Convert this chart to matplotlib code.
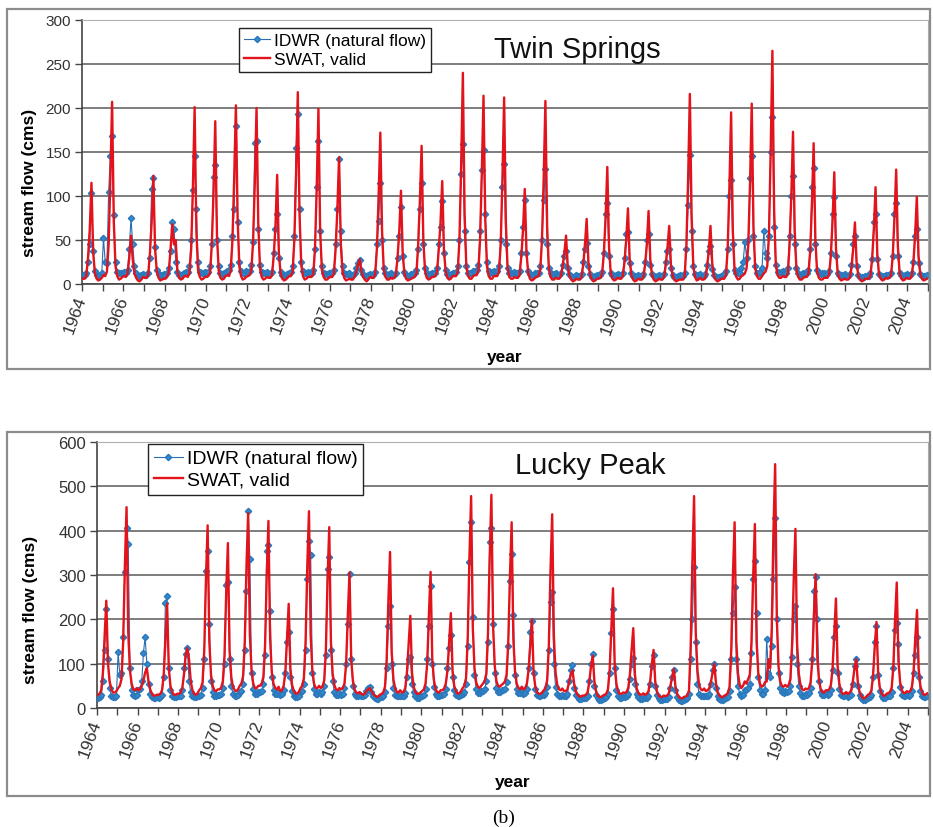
import numpy as np
import matplotlib
matplotlib.use("Agg")
import matplotlib.pyplot as plt
from matplotlib.patches import Rectangle

plt.rcParams['font.family'] = ['Liberation Sans', 'DejaVu Sans']

years = list(range(1964, 2005))

# Twin Springs, monthly values (Jan..Dec), one row per year 1964-2004
ts_swat = [
    [6, 6, 9, 30, 62, 115, 36, 12, 6, 4, 5, 7],
    [10, 9, 14, 45, 120, 207, 70, 20, 9, 5, 6, 8],
    [9, 8, 12, 30, 55, 28, 12, 7, 4, 3, 5, 8],
    [7, 7, 10, 35, 70, 123, 40, 14, 7, 4, 5, 6],
    [6, 8, 14, 40, 68, 45, 50, 14, 7, 5, 6, 9],
    [9, 8, 12, 40, 110, 201, 60, 16, 8, 5, 6, 8],
    [8, 9, 13, 45, 105, 185, 55, 15, 7, 5, 6, 9],
    [10, 9, 15, 50, 120, 203, 75, 20, 9, 5, 6, 8],
    [9, 10, 16, 48, 115, 200, 70, 18, 8, 5, 6, 8],
    [7, 7, 10, 32, 65, 124, 35, 12, 6, 4, 5, 7],
    [9, 9, 14, 50, 125, 218, 80, 22, 9, 5, 6, 8],
    [8, 8, 11, 40, 110, 199, 60, 16, 8, 5, 5, 7],
    [8, 8, 12, 40, 85, 144, 45, 14, 7, 4, 5, 6],
    [5, 5, 8, 14, 22, 28, 15, 8, 5, 3, 5, 8],
    [7, 7, 11, 40, 100, 172, 60, 16, 8, 5, 5, 7],
    [6, 7, 10, 30, 60, 106, 35, 12, 6, 4, 5, 6],
    [7, 8, 12, 45, 95, 157, 50, 15, 7, 5, 6, 8],
    [8, 9, 14, 40, 70, 117, 38, 14, 7, 5, 6, 9],
    [9, 9, 14, 50, 135, 240, 80, 20, 9, 6, 6, 9],
    [10, 10, 15, 50, 125, 214, 75, 20, 9, 6, 6, 9],
    [9, 9, 14, 45, 120, 212, 70, 18, 8, 6, 6, 8],
    [7, 7, 10, 32, 62, 108, 36, 12, 6, 4, 5, 7],
    [8, 9, 16, 50, 120, 208, 65, 18, 8, 5, 5, 7],
    [6, 6, 9, 20, 35, 55, 20, 9, 5, 3, 4, 6],
    [5, 5, 8, 22, 45, 74, 25, 10, 5, 3, 4, 6],
    [6, 7, 12, 35, 75, 133, 42, 12, 6, 4, 5, 7],
    [6, 6, 9, 25, 50, 86, 28, 10, 5, 3, 4, 6],
    [5, 5, 8, 22, 45, 83, 28, 10, 5, 3, 4, 6],
    [5, 5, 8, 22, 42, 66, 22, 9, 5, 3, 4, 5],
    [5, 5, 9, 45, 120, 216, 80, 20, 8, 4, 5, 7],
    [5, 5, 7, 18, 38, 66, 24, 9, 5, 3, 4, 6],
    [6, 6, 10, 40, 110, 195, 60, 16, 8, 5, 6, 9],
    [10, 12, 18, 45, 115, 205, 65, 18, 9, 6, 6, 9],
    [12, 14, 20, 55, 150, 265, 85, 22, 10, 7, 7, 9],
    [8, 8, 12, 45, 100, 173, 60, 16, 8, 5, 5, 7],
    [8, 8, 12, 38, 90, 160, 50, 14, 7, 5, 5, 7],
    [7, 7, 11, 32, 72, 127, 40, 12, 6, 4, 5, 6],
    [5, 5, 7, 18, 40, 70, 24, 9, 5, 3, 4, 6],
    [6, 6, 9, 28, 62, 110, 35, 11, 6, 4, 5, 7],
    [6, 7, 10, 32, 75, 130, 42, 12, 6, 4, 5, 7],
    [6, 6, 9, 25, 55, 99, 32, 11, 6, 4, 5, 6],
]

ts_idwr = [
    [10, 10, 12, 25, 45, 103, 38, 15, 10, 9, 10, 12],
    [52, 25, 24, 104, 146, 168, 78, 25, 14, 12, 12, 13],
    [14, 13, 16, 40, 75, 45, 20, 12, 9, 9, 10, 11],
    [10, 10, 12, 30, 108, 121, 42, 16, 11, 10, 10, 11],
    [10, 12, 18, 38, 71, 62, 25, 14, 10, 10, 11, 13],
    [14, 14, 20, 50, 107, 145, 85, 25, 14, 12, 12, 14],
    [13, 14, 20, 45, 122, 135, 50, 20, 12, 11, 12, 14],
    [15, 16, 22, 55, 85, 180, 70, 25, 15, 12, 13, 15],
    [14, 15, 22, 48, 160, 163, 63, 22, 14, 12, 12, 14],
    [11, 11, 14, 35, 62, 80, 30, 14, 10, 9, 10, 11],
    [13, 14, 20, 55, 155, 193, 85, 25, 15, 12, 13, 14],
    [12, 12, 16, 40, 110, 163, 60, 20, 13, 11, 11, 12],
    [12, 12, 16, 45, 85, 142, 60, 20, 13, 11, 11, 12],
    [10, 10, 12, 18, 24, 27, 16, 11, 9, 9, 10, 11],
    [10, 10, 14, 45, 72, 115, 50, 18, 12, 10, 11, 12],
    [10, 10, 13, 30, 55, 87, 32, 14, 10, 9, 10, 11],
    [11, 12, 16, 40, 85, 115, 45, 18, 12, 10, 11, 13],
    [12, 13, 18, 45, 65, 94, 35, 16, 11, 10, 11, 13],
    [13, 14, 20, 50, 125, 159, 60, 20, 13, 12, 13, 15],
    [15, 16, 22, 60, 130, 152, 80, 25, 15, 13, 14, 15],
    [14, 15, 20, 50, 110, 136, 45, 18, 13, 12, 12, 14],
    [12, 12, 15, 35, 65, 95, 35, 15, 11, 10, 10, 12],
    [12, 13, 20, 50, 95, 131, 45, 18, 12, 10, 11, 12],
    [10, 10, 12, 22, 32, 37, 18, 11, 9, 8, 9, 10],
    [9, 9, 11, 25, 40, 47, 20, 11, 8, 8, 9, 10],
    [10, 10, 14, 35, 80, 92, 32, 13, 10, 9, 10, 11],
    [10, 10, 12, 30, 57, 59, 24, 12, 9, 9, 9, 10],
    [9, 9, 11, 25, 50, 57, 22, 11, 9, 8, 9, 10],
    [9, 9, 11, 25, 38, 40, 18, 10, 8, 8, 9, 10],
    [9, 9, 13, 40, 90, 147, 60, 20, 11, 9, 10, 11],
    [9, 9, 11, 22, 38, 43, 17, 10, 8, 8, 8, 9],
    [10, 11, 15, 40, 100, 118, 45, 16, 12, 12, 13, 18],
    [25, 48, 30, 50, 120, 146, 55, 20, 13, 13, 14, 18],
    [60, 35, 30, 55, 150, 190, 65, 22, 14, 13, 14, 15],
    [13, 13, 18, 55, 100, 123, 45, 18, 12, 10, 11, 12],
    [12, 12, 16, 40, 110, 132, 45, 16, 12, 11, 12, 13],
    [11, 11, 15, 35, 80, 99, 32, 13, 10, 10, 10, 11],
    [9, 9, 11, 22, 45, 55, 20, 10, 8, 8, 8, 9],
    [9, 9, 12, 28, 70, 80, 28, 11, 9, 9, 9, 10],
    [10, 10, 13, 32, 80, 92, 32, 12, 10, 9, 10, 11],
    [10, 10, 12, 25, 55, 62, 24, 11, 9, 9, 9, 10],
]

# Lucky Peak, monthly values (Jan..Dec), one row per year 1964-2004
lp_swat = [
    [30, 32, 40, 80, 160, 242, 100, 60, 42, 35, 35, 38],
    [45, 50, 65, 150, 320, 453, 170, 85, 55, 42, 40, 45],
    [40, 42, 50, 62, 80, 90, 60, 42, 32, 28, 28, 30],
    [30, 32, 40, 75, 150, 235, 90, 50, 36, 30, 30, 32],
    [32, 35, 45, 75, 120, 135, 110, 60, 40, 32, 30, 33],
    [40, 45, 58, 130, 290, 412, 150, 75, 50, 40, 38, 42],
    [42, 46, 60, 120, 260, 372, 130, 70, 48, 40, 38, 42],
    [50, 55, 72, 150, 320, 440, 165, 85, 55, 45, 45, 50],
    [50, 55, 70, 140, 300, 422, 155, 80, 55, 45, 42, 48],
    [38, 40, 50, 80, 160, 235, 90, 52, 38, 33, 33, 36],
    [45, 50, 68, 150, 320, 444, 165, 85, 55, 45, 45, 50],
    [45, 48, 62, 130, 290, 408, 150, 78, 52, 42, 40, 45],
    [42, 45, 55, 100, 210, 306, 110, 62, 42, 35, 33, 36],
    [32, 30, 32, 38, 42, 45, 38, 32, 28, 25, 26, 30],
    [32, 35, 48, 110, 240, 352, 125, 65, 45, 36, 35, 40],
    [35, 36, 45, 80, 145, 208, 80, 48, 36, 32, 32, 35],
    [38, 42, 55, 100, 210, 307, 110, 62, 42, 36, 35, 40],
    [40, 44, 55, 85, 150, 214, 85, 50, 38, 33, 33, 38],
    [45, 50, 68, 160, 340, 478, 180, 90, 58, 48, 45, 50],
    [55, 60, 78, 170, 340, 481, 185, 95, 60, 50, 48, 52],
    [55, 60, 75, 150, 300, 419, 155, 82, 55, 45, 42, 48],
    [42, 45, 55, 85, 140, 200, 80, 48, 36, 32, 32, 35],
    [40, 45, 62, 140, 310, 437, 160, 80, 52, 42, 40, 44],
    [38, 38, 42, 58, 75, 85, 55, 38, 30, 26, 26, 28],
    [28, 30, 36, 60, 95, 118, 60, 38, 28, 25, 25, 28],
    [30, 32, 42, 85, 180, 270, 100, 55, 38, 32, 32, 35],
    [34, 36, 45, 75, 130, 180, 75, 45, 34, 30, 30, 33],
    [30, 32, 38, 60, 100, 131, 60, 38, 28, 25, 25, 28],
    [27, 28, 33, 50, 70, 88, 48, 32, 25, 22, 22, 25],
    [26, 28, 40, 140, 330, 478, 170, 85, 52, 42, 40, 44],
    [38, 40, 45, 60, 80, 100, 55, 36, 28, 25, 25, 28],
    [30, 34, 48, 130, 300, 419, 150, 78, 52, 45, 50, 60],
    [55, 65, 75, 150, 300, 415, 150, 80, 55, 48, 50, 58],
    [60, 110, 90, 180, 400, 550, 200, 95, 60, 50, 48, 52],
    [48, 52, 65, 140, 290, 404, 145, 78, 52, 42, 40, 44],
    [42, 45, 58, 110, 210, 302, 110, 62, 42, 36, 35, 40],
    [40, 42, 52, 90, 170, 247, 95, 55, 38, 32, 32, 36],
    [32, 34, 40, 60, 90, 110, 55, 36, 27, 22, 22, 26],
    [30, 32, 40, 75, 140, 194, 78, 45, 33, 28, 28, 32],
    [34, 36, 46, 95, 200, 283, 105, 58, 40, 34, 34, 38],
    [36, 38, 48, 85, 160, 221, 88, 50, 36, 30, 30, 33],
]

lp_idwr = [
    [22, 25, 30, 60, 130, 223, 110, 45, 28, 24, 24, 26],
    [126, 75, 80, 160, 307, 405, 370, 90, 40, 30, 28, 30],
    [40, 42, 60, 125, 160, 100, 55, 32, 25, 22, 22, 24],
    [22, 24, 30, 70, 237, 252, 90, 40, 28, 24, 24, 26],
    [26, 28, 40, 90, 122, 135, 60, 35, 28, 24, 24, 27],
    [28, 30, 45, 110, 310, 355, 190, 60, 35, 28, 28, 30],
    [30, 32, 45, 100, 278, 285, 110, 50, 32, 28, 28, 30],
    [35, 38, 55, 130, 265, 445, 335, 80, 42, 32, 32, 35],
    [35, 38, 55, 120, 355, 368, 219, 70, 40, 32, 32, 35],
    [30, 32, 40, 80, 150, 171, 70, 38, 28, 25, 25, 28],
    [35, 38, 55, 130, 290, 377, 345, 80, 42, 32, 32, 35],
    [32, 35, 50, 120, 314, 340, 130, 60, 36, 30, 30, 33],
    [30, 32, 45, 100, 190, 303, 110, 50, 32, 27, 27, 30],
    [26, 26, 30, 38, 45, 48, 35, 27, 22, 20, 20, 24],
    [24, 26, 36, 90, 185, 230, 100, 45, 30, 26, 26, 28],
    [26, 27, 34, 70, 110, 115, 55, 35, 26, 23, 23, 26],
    [28, 30, 42, 110, 185, 276, 100, 48, 32, 27, 27, 30],
    [30, 32, 42, 90, 135, 165, 70, 40, 30, 26, 26, 30],
    [32, 36, 55, 140, 330, 419, 205, 75, 42, 34, 34, 38],
    [38, 42, 60, 150, 375, 405, 190, 80, 45, 36, 36, 40],
    [40, 42, 58, 140, 287, 347, 210, 75, 42, 34, 34, 38],
    [32, 34, 42, 90, 171, 197, 80, 42, 30, 27, 27, 30],
    [30, 34, 48, 131, 240, 262, 100, 48, 32, 27, 27, 30],
    [28, 28, 32, 60, 85, 97, 45, 30, 24, 20, 20, 22],
    [22, 23, 28, 60, 100, 122, 50, 30, 22, 18, 18, 21],
    [22, 24, 32, 80, 170, 223, 90, 40, 26, 22, 22, 25],
    [25, 26, 32, 65, 100, 112, 55, 32, 24, 20, 20, 23],
    [22, 23, 28, 55, 95, 120, 50, 30, 22, 18, 18, 21],
    [20, 21, 25, 45, 70, 85, 40, 25, 18, 15, 15, 18],
    [20, 22, 32, 110, 200, 318, 150, 55, 32, 26, 26, 28],
    [26, 27, 32, 55, 85, 100, 45, 28, 21, 18, 18, 21],
    [22, 25, 38, 110, 215, 272, 110, 50, 32, 28, 30, 40],
    [40, 45, 55, 125, 290, 332, 215, 70, 40, 32, 32, 40],
    [155, 80, 70, 140, 291, 428, 200, 80, 45, 35, 34, 38],
    [35, 38, 50, 115, 200, 230, 100, 50, 34, 28, 28, 32],
    [30, 33, 45, 110, 265, 295, 200, 60, 36, 30, 30, 33],
    [30, 32, 40, 85, 160, 185, 80, 42, 30, 26, 26, 29],
    [25, 26, 30, 55, 95, 110, 50, 30, 22, 18, 18, 21],
    [22, 24, 30, 70, 150, 185, 75, 38, 27, 23, 23, 26],
    [26, 28, 36, 90, 175, 192, 145, 48, 30, 26, 26, 29],
    [28, 30, 38, 80, 120, 160, 70, 38, 28, 24, 24, 27],
]

tick_years = list(range(1964, 2006))
tick_labels = [str(y) if (y % 2 == 0 and y <= 2004) else '' for y in tick_years]

# month centres as decimal years
t = np.array([y + (m + 0.5) / 12 for y in years for m in range(12)])

W, H = 933, 828
fig = plt.figure(figsize=(W / 100, H / 100), dpi=100)

def px(x0, y0, x1, y1):
    # pixel box (left, top, right, bottom) -> figure fraction rect
    return [x0 / W, 1 - y1 / H, (x1 - x0) / W, (y1 - y0) / H]

# outer chart frames
for box in [(7, 10, 930, 370), (7, 433, 930, 797)]:
    fig.patches.append(Rectangle((box[0] / W, 1 - box[3] / H), (box[2] - box[0]) / W,
                                 (box[3] - box[1]) / H, transform=fig.transFigure,
                                 fill=False, edgecolor='#8c8c8c', lw=1.6))

panels = [
    dict(rect=px(82, 21, 928, 285), swat=ts_swat, idwr=ts_idwr, ymax=300, step=50,
         title='Twin Springs', tpos=(0.586, 0.89), leg=(0.1856, 0.97), lfs=12.5,
         yfs=11, ylab=(30, 183), xlab_y=358),
    dict(rect=px(97, 443, 928, 709), swat=lp_swat, idwr=lp_idwr, ymax=600, step=100,
         title='Lucky Peak', tpos=(0.593, 0.912), leg=(0.0614, 0.9925), lfs=14,
         yfs=12, ylab=(31, 610), xlab_y=783),
]

for p in panels:
    ax = fig.add_axes(p['rect'])
    idwr = np.array(p['idwr']).ravel()
    swat = np.array(p['swat']).ravel()
    ax.plot(t, idwr, color='#2a6eb0', lw=0.8, marker='D', ms=3.2,
            mfc='#3389cc', mec='#2a78bb', label='IDWR (natural flow)', zorder=3)
    ax.plot(t, swat, color='#e3131c', lw=1.7, label='SWAT, valid', zorder=4)

    ax.set_xlim(1964, 2005)
    ax.set_ylim(0, p['ymax'])
    ax.set_yticks(np.arange(0, p['ymax'] + 1, p['step']))
    ax.set_xticks(tick_years)
    ax.set_xticklabels(tick_labels, rotation=70, ha='right', va='center',
                       rotation_mode='anchor', fontsize=12.5, color='#333333')
    ax.tick_params(axis='y', labelsize=p['yfs'], labelcolor='#333333', length=5,
                   width=1, color='#444444', pad=3)
    ax.tick_params(axis='x', length=5, width=1, color='#444444', pad=4)
    ax.grid(axis='y', color='#5a5a5a', lw=1.1)
    ax.set_axisbelow(True)
    for s in ['left', 'bottom']:
        ax.spines[s].set_color('#444444')
        ax.spines[s].set_linewidth(1.2)
    for s in ['top', 'right']:
        ax.spines[s].set_color('#b0b0b0')

    ax.text(p['tpos'][0], p['tpos'][1], p['title'], transform=ax.transAxes,
            ha='center', va='center', fontsize=21, color='#111111')

    leg = ax.legend(loc='upper left', bbox_to_anchor=p['leg'], borderaxespad=0,
                    fontsize=p['lfs'], frameon=True, fancybox=False, framealpha=1,
                    edgecolor='#222222', handlelength=1.5, handletextpad=0.2,
                    borderpad=0.3, labelspacing=0.2)
    leg.get_frame().set_linewidth(1.0)
    leg.set_zorder(10)

    fig.text(p['ylab'][0] / W, 1 - p['ylab'][1] / H, 'stream flow (cms)',
             rotation=90, ha='center', va='center', fontsize=12.5, fontweight='bold')
    cx = (p['rect'][0] + p['rect'][2] / 2)
    fig.text(cx, 1 - p['xlab_y'] / H, 'year', ha='center', va='center',
             fontsize=12.5, fontweight='bold')

fig.text(0.54, 1 - 818 / H, '(b)', ha='center', va='center', fontsize=14,
         family=['Liberation Serif', 'DejaVu Serif'])

fig.savefig('out.png', dpi=100)
